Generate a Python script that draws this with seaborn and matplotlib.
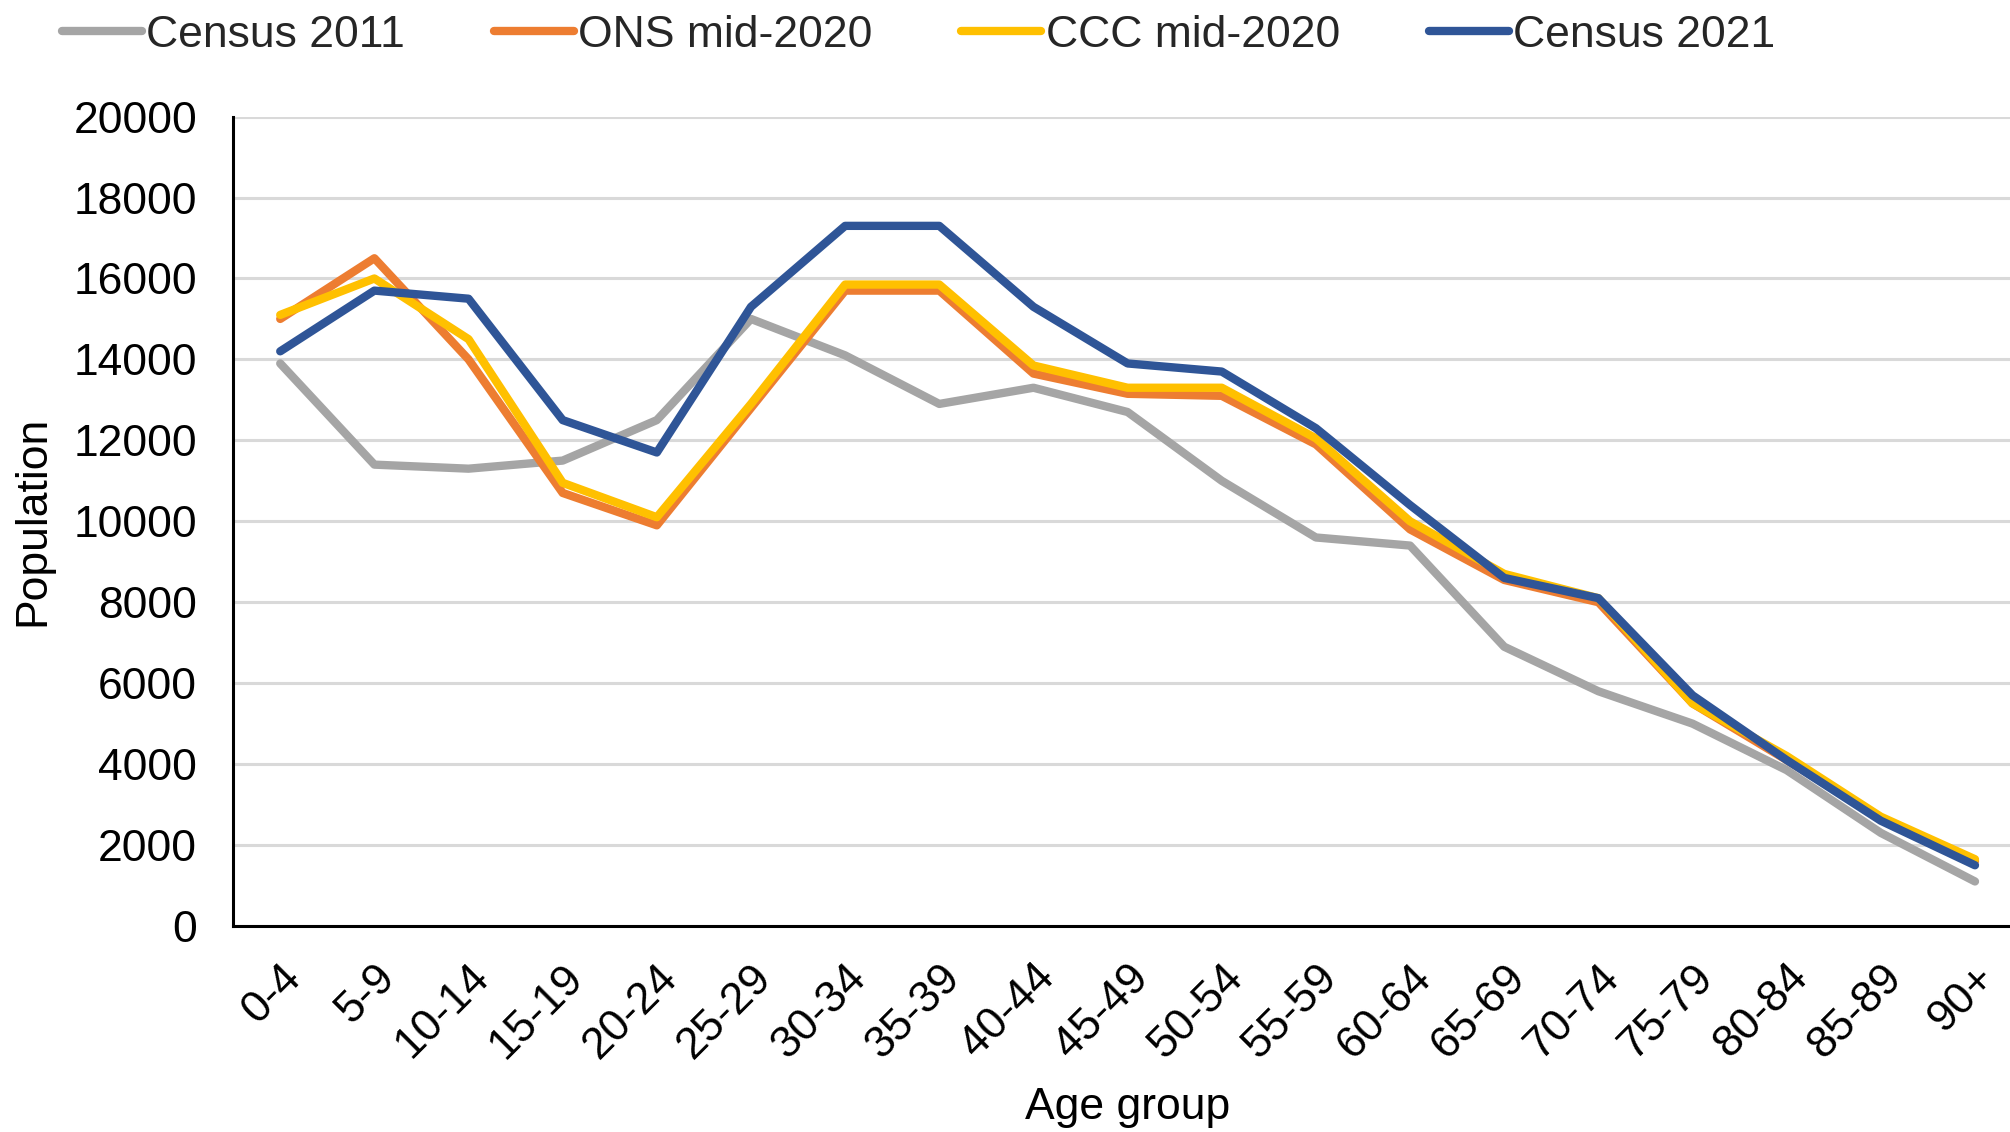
import matplotlib
matplotlib.use("Agg")
import matplotlib.pyplot as plt
import seaborn as sns
import pandas as pd

age_groups = ["0-4", "5-9", "10-14", "15-19", "20-24", "25-29", "30-34", "35-39",
              "40-44", "45-49", "50-54", "55-59", "60-64", "65-69", "70-74",
              "75-79", "80-84", "85-89", "90+"]
census_2011 = [13900, 11400, 11300, 11500, 12500, 15000, 14100, 12900, 13300, 12700,
               11000, 9600, 9400, 6900, 5800, 5000, 3850, 2300, 1100]
ons_mid_2020 = [15000, 16500, 14000, 10700, 9900, 12800, 15700, 15700, 13650, 13150,
                13100, 11900, 9800, 8550, 8000, 5500, 4100, 2650, 1600]
ccc_mid_2020 = [15100, 16000, 14500, 10950, 10100, 12900, 15850, 15850, 13850, 13300,
                13300, 12050, 10000, 8700, 8100, 5500, 4200, 2700, 1650]
census_2021 = [14200, 15700, 15500, 12500, 11700, 15300, 17300, 17300, 15300, 13900,
               13700, 12300, 10400, 8600, 8100, 5700, 4100, 2600, 1500]
series_names = ["Census 2011", "ONS mid-2020", "CCC mid-2020", "Census 2021"]
colors = ["#A5A5A5", "#ED7D31", "#FFC000", "#2F5597"]

frames = []
for name, vals in zip(series_names, [census_2011, ons_mid_2020, ccc_mid_2020, census_2021]):
    frames.append(pd.DataFrame({"Age group": age_groups, "Population": vals, "Series": name}))
df = pd.concat(frames, ignore_index=True)

sns.set_theme(style="white")
plt.rcParams["font.family"] = ["Liberation Sans", "DejaVu Sans"]

FS = 32
fig = plt.figure(figsize=(20.10, 11.32), dpi=100)
ax = fig.add_axes([0.116, 0.182, 0.89, 0.715])

sns.lineplot(data=df, x="Age group", y="Population", hue="Series",
             hue_order=series_names, palette=colors, linewidth=6,
             sort=False, ax=ax, legend=True)

ax.set_ylim(0, 20000)
ax.set_xlim(-0.5, 18.5)
ax.set_yticks(range(0, 20001, 2000))
ax.set_xticks(range(len(age_groups)))
ax.set_xticklabels(age_groups, rotation=45, ha="right", rotation_mode="anchor")
ax.yaxis.grid(True, color="#D9D9D9", linewidth=2.2)
ax.set_axisbelow(True)
for s in ["top", "right"]:
    ax.spines[s].set_visible(False)
for s in ["left", "bottom"]:
    ax.spines[s].set_color("black")
    ax.spines[s].set_linewidth(2.2)
ax.tick_params(axis="both", which="both", direction="out", length=8, width=2,
               color="black", labelsize=FS, labelcolor="black")
ax.tick_params(axis="x", pad=14)
ax.tick_params(axis="y", pad=18)
ax.set_xlabel("Age group", fontsize=FS, color="black", labelpad=15)
ax.set_ylabel("Population", fontsize=FS, color="black", labelpad=14)

handles, labels = ax.get_legend_handles_labels()
leg = ax.legend(handles, labels, loc="center", bbox_to_anchor=(0.457, 0.969),
                bbox_transform=fig.transFigure, ncol=4, frameon=False, fontsize=FS,
                handlelength=1.8, handletextpad=0.1, columnspacing=2.0)
for line in leg.get_lines():
    line.set_linewidth(6)

fig.savefig("out.png", dpi=100)
